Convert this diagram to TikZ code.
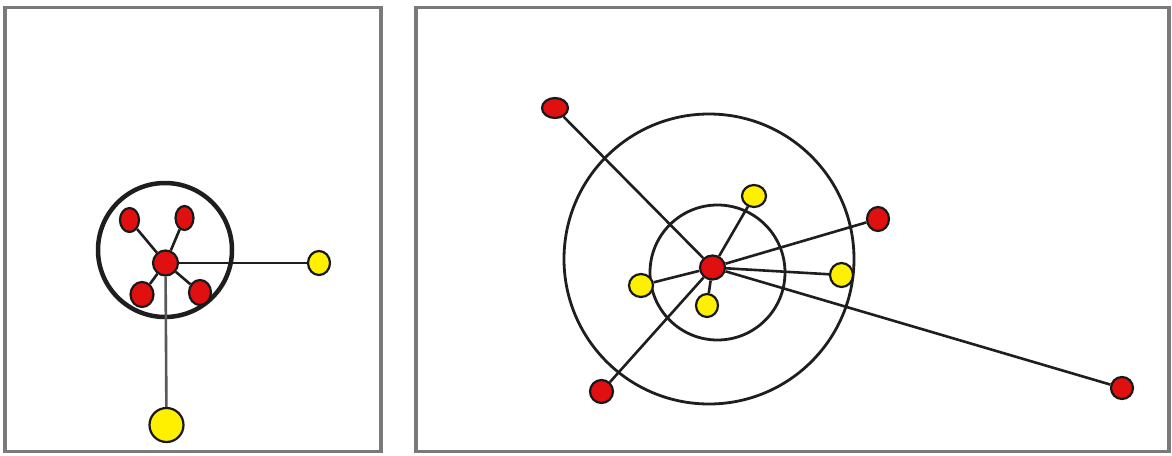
\documentclass[tikz,border=0pt]{standalone}
\usetikzlibrary{shapes.geometric}
\definecolor{nodered}{HTML}{E01010}
\definecolor{nodeyellow}{HTML}{FFF000}
\definecolor{framegray}{HTML}{7A7A7A}
\definecolor{edgecol}{HTML}{1E1E1E}
\tikzset{
  panel/.style={draw=framegray, line width=3.5pt},
  ring/.style={draw=edgecol, line width=2.8pt},
  thickring/.style={draw=edgecol, line width=4.5pt},
  dot/.style={ellipse, draw=black!90, line width=2.2pt, inner sep=0pt},
  rdot/.style={dot, fill=nodered},
  ydot/.style={dot, fill=nodeyellow},
  edge/.style={draw=edgecol, line width=2.6pt},
}
\begin{document}
\begin{tikzpicture}[x=1pt,y=-1pt]
\useasboundingbox (0,0) rectangle (1172,455);
\fill[white] (0,0) rectangle (1172,455);
% panels
\draw[panel] (5,7.5) rectangle (381,451.5);
\draw[panel] (416,7.5) rectangle (1169,451.5);

% ---------- left panel ----------
\draw[thickring] (165,250) circle (67);
\node[rdot, minimum width=25pt, minimum height=25pt] (lc) at (165.5,263) {};
\node[rdot, minimum width=19pt, minimum height=24pt] (l1) at (129.5,220) {};
\node[rdot, minimum width=18pt, minimum height=24pt] (l2) at (184.5,218) {};
\node[rdot, minimum width=23pt, minimum height=25pt] (l3) at (142,294.5) {};
\node[rdot, minimum width=22pt, minimum height=25pt] (l4) at (200,292.5) {};
\node[ydot, minimum width=22pt, minimum height=24pt] (ly1) at (319,263) {};
\node[ydot, minimum width=34pt, minimum height=34pt] (ly2) at (166.5,425) {};
\foreach \n in {l1,l2,l3,l4} \draw[edge] (lc) -- (\n);
\draw[edge] (lc) -- (ly1);
\draw[edge, draw=black!65] (lc) -- (ly2);

% ---------- right panel ----------
\draw[ring] (709,259) circle (145);
\draw[ring] (717.5,272.5) circle (67.5);
\node[rdot, minimum width=25pt, minimum height=24pt] (rc) at (712.5,267.5) {};
\node[rdot, minimum width=26pt, minimum height=20pt] (r1) at (555,108) {};
\node[rdot, minimum width=22pt, minimum height=24pt] (r2) at (878,219) {};
\node[rdot, minimum width=23pt, minimum height=23pt] (r3) at (601.5,391.5) {};
\node[rdot, minimum width=22pt, minimum height=22pt] (r4) at (1122,388) {};
\node[ydot, minimum width=24pt, minimum height=22pt] (y1) at (754,196) {};
\node[ydot, minimum width=24pt, minimum height=23pt] (y2) at (641,285.5) {};
\node[ydot, minimum width=22pt, minimum height=23pt] (y3) at (707,305.5) {};
\node[ydot, minimum width=23pt, minimum height=24pt] (y4) at (841.5,275) {};
\foreach \n in {r1,r2,r3,r4,y1,y2,y3,y4} \draw[edge] (rc) -- (\n);
\end{tikzpicture}
\end{document}
